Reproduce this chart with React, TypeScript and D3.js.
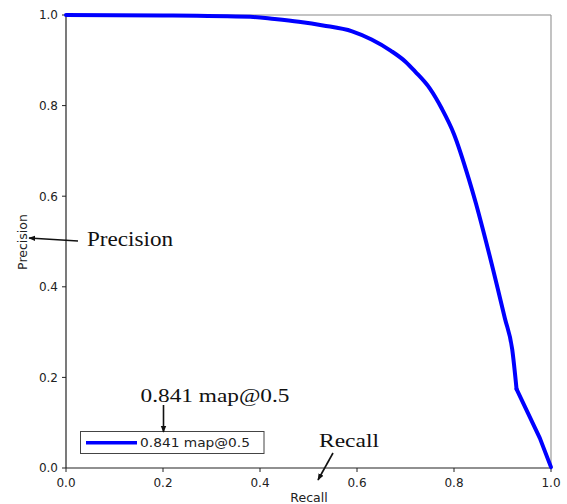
import React from "react";
import * as d3 from "d3";

const recall = [0.0, 0.2, 0.38, 0.43, 0.48, 0.53, 0.59, 0.63, 0.67, 0.7, 0.72, 0.75, 0.775, 0.8, 0.83, 0.845, 0.86, 0.89, 0.905, 0.92, 0.929, 0.977, 1.0];
const precision = [1.0, 0.999, 0.996, 0.991, 0.985, 0.977, 0.964, 0.946, 0.921, 0.897, 0.875, 0.838, 0.793, 0.737, 0.640, 0.585, 0.525, 0.397, 0.330, 0.262, 0.174, 0.066, 0.002];
const kinkRecall = 0.929;
const xTicks = [0, 0.2, 0.4, 0.6, 0.8, 1.0];
const yTicks = [0, 0.2, 0.4, 0.6, 0.8, 1.0];
const legendLabel = "0.841 map@0.5";

export default function App() {
  const W = 567, H = 504;
  const x = d3.scaleLinear().domain([0, 1]).range([66, 551]);
  const y = d3.scaleLinear().domain([0, 1]).range([468, 15]);
  const pts = recall.map((r, i) => [r, precision[i]] as [number, number]);
  const upper = pts.filter(p => p[0] <= kinkRecall);
  const lower = pts.filter(p => p[0] >= kinkRecall);
  const smooth = d3.line<[number, number]>().x(d => x(d[0])).y(d => y(d[1])).curve(d3.curveMonotoneX);
  const straight = d3.line<[number, number]>().x(d => x(d[0])).y(d => y(d[1])).curve(d3.curveLinear);
  const sans = "DejaVu Sans, sans-serif";
  const serif = "Liberation Serif, Times New Roman, serif";
  return (
    <svg width={W} height={H} style={{ position: "absolute", left: 0, top: 0, display: "block", background: "#fff" }}>
      <defs>
        <marker id="ah" viewBox="0 0 10 10" refX="9" refY="5" markerWidth="7" markerHeight="7" orient="auto-start-reverse" markerUnits="userSpaceOnUse">
          <path d="M0,1 L10,5 L0,9 z" fill="#111" />
        </marker>
      </defs>
      <rect x={0} y={0} width={W} height={H} fill="#fff" />
      {/* frame */}
      <line x1={x(0)} x2={x(1)} y1={y(1)} y2={y(1)} stroke="#8a8a8a" strokeWidth={1.2} />
      <line x1={x(1)} x2={x(1)} y1={y(0)} y2={y(1)} stroke="#9a9a9a" strokeWidth={1.2} />
      <line x1={x(0)} x2={x(0)} y1={y(0)} y2={y(1)} stroke="#222" strokeWidth={1.2} />
      <line x1={x(0)} x2={x(1)} y1={y(0)} y2={y(0)} stroke="#222" strokeWidth={1.2} />
      {/* y ticks */}
      {yTicks.map(t => (
        <g key={"y" + t}>
          <line x1={x(0) - 4} x2={x(0)} y1={y(t)} y2={y(t)} stroke="#222" strokeWidth={1} />
          <text x={x(0) - 8} y={y(t)} dy="0.36em" textAnchor="end" fontFamily={sans} fontSize={12} fill="#222">{t.toFixed(1)}</text>
        </g>
      ))}
      {/* x ticks */}
      {xTicks.map(t => (
        <g key={"x" + t}>
          <line x1={x(t)} x2={x(t)} y1={y(0)} y2={y(0) + 4} stroke="#222" strokeWidth={1} />
          <text x={x(t)} y={487} textAnchor="middle" fontFamily={sans} fontSize={12} fill="#222">{t.toFixed(1)}</text>
        </g>
      ))}
      {/* axis labels */}
      <text x={309} y={502} textAnchor="middle" fontFamily={sans} fontSize={12.5} fill="#222">Recall</text>
      <text transform="translate(27,242) rotate(-90)" textAnchor="middle" fontFamily={sans} fontSize={12.5} fill="#222">Precision</text>
      {/* curve */}
      <path d={smooth(upper) || ""} fill="none" stroke="#0000ff" strokeWidth={4} strokeLinejoin="round" strokeLinecap="round" />
      <path d={straight(lower) || ""} fill="none" stroke="#0000ff" strokeWidth={4} strokeLinejoin="round" strokeLinecap="round" />
      {/* legend */}
      <rect x={80.5} y={431.5} width={183.5} height={22} fill="#fff" stroke="#444" strokeWidth={1} />
      <line x1={86} x2={137} y1={442.7} y2={442.7} stroke="#0000ff" strokeWidth={3.5} />
      <text x={140} y={447} fontFamily={sans} fontSize={13} textLength={110} lengthAdjust="spacingAndGlyphs" fill="#222">{legendLabel}</text>
      {/* annotations */}
      <text x={140.5} y={402} fontFamily={serif} fontSize={19.5} textLength={149} lengthAdjust="spacingAndGlyphs" fill="#111">{legendLabel}</text>
      <line x1={163.5} y1={405} x2={163.5} y2={432} stroke="#111" strokeWidth={1.6} markerEnd="url(#ah)" />
      <text x={87} y={246} fontFamily={serif} fontSize={21} textLength={86} lengthAdjust="spacingAndGlyphs" fill="#111">Precision</text>
      <line x1={78} y1={241} x2={29} y2={238} stroke="#111" strokeWidth={1.6} markerEnd="url(#ah)" />
      <text x={319} y={446.7} fontFamily={serif} fontSize={19} textLength={60} lengthAdjust="spacingAndGlyphs" fill="#111">Recall</text>
      <line x1={333} y1={453} x2={318} y2={480} stroke="#111" strokeWidth={1.6} markerEnd="url(#ah)" />
    </svg>
  );
}
